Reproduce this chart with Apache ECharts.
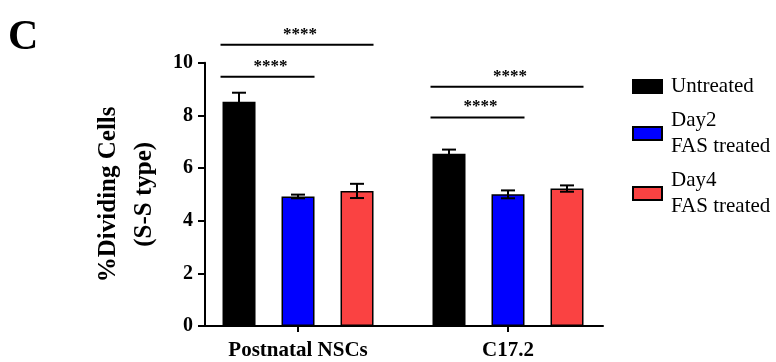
<!DOCTYPE html>
<html>
<head>
<meta charset="utf-8">
<script src="https://cdn.jsdelivr.net/npm/echarts@6/dist/echarts.min.js"></script>
<style>html,body{margin:0;padding:0;background:#fff}#c{width:776px;height:362px}</style>
</head>
<body>
<div id="c"></div>
<script>
// ---- data ----
const categories = ['Postnatal NSCs', 'C17.2'];
const seriesNames = ['Untreated', 'Day2 FAS treated', 'Day4 FAS treated'];
const legendLabels = ['Untreated', 'Day2\nFAS treated', 'Day4\nFAS treated'];
const untreated = [8.52, 6.54];
const day2 = [4.92, 5.00];
const day4 = [5.13, 5.22];
const untreatedErr = [0.34, 0.16];
const day2Err = [0.07, 0.15];
const day4Err = [0.27, 0.12];
const yTicks = [0, 2, 4, 6, 8, 10];
// significance brackets: group, first bar, last bar, height, label
const sigGroup = [0, 0, 1, 1];
const sigFrom = [0, 0, 0, 0];
const sigTo = [2, 1, 2, 1];
const sigHeight = [10.68, 9.47, 9.09, 7.92];
const sigLabel = ['****', '****', '****', '****'];

// ---- style ----
const FONT = '"Liberation Serif", "Times New Roman", serif';
const colors = ['#000000', '#0000FF', '#FA4242'];
const BAR_W = 33, BAR_GAP = 26, STEP = BAR_W + BAR_GAP;

const values = [untreated, day2, day4];
const errs = [untreatedErr, day2Err, day4Err];

const chart = echarts.init(document.getElementById('c'), null, {renderer: 'canvas'});

const barSeries = seriesNames.map((n, k) => ({
  type: 'bar', name: n,
  data: categories.map((c, i) => [i, values[k][i]]),
  barWidth: BAR_W, barGap: (BAR_GAP / BAR_W * 100) + '%',
  itemStyle: {color: colors[k], borderColor: '#000', borderWidth: 1.5},
  z: 2
}));

const errSeries = seriesNames.map((n, k) => ({
  type: 'custom', name: n + ' err',
  data: categories.map((c, i) => [i, values[k][i], errs[k][i]]),
  encode: {x: 0, y: 1},
  z: 5,
  renderItem: function (params, api) {
    const x = api.value(0), v = api.value(1), e = api.value(2);
    const t = api.coord([x, v + e]);
    const b = api.coord([x, v - e]);
    const cx = t[0] + (k - 1) * STEP;
    const st = {stroke: '#000', lineWidth: 2};
    return {type: 'group', children: [
      {type: 'line', shape: {x1: cx, y1: t[1], x2: cx, y2: b[1]}, style: st},
      {type: 'line', shape: {x1: cx - 7, y1: t[1], x2: cx + 7, y2: t[1]}, style: st},
      {type: 'line', shape: {x1: cx - 7, y1: b[1], x2: cx + 7, y2: b[1]}, style: st}
    ]};
  }
}));

const sigSeries = {
  type: 'custom', name: 'sig',
  data: sigGroup.map((g, i) => [g, sigHeight[i], sigFrom[i], sigTo[i], i]),
  encode: {x: 0, y: 1},
  z: 5,
  renderItem: function (params, api) {
    const g = api.value(0), h = api.value(1), f = api.value(2), to = api.value(3), idx = api.value(4);
    const p = api.coord([g, h]);
    const x1 = p[0] + (f - 1) * STEP - BAR_W / 2 - 2;
    const x2 = p[0] + (to - 1) * STEP + BAR_W / 2;
    return {type: 'group', children: [
      {type: 'line', shape: {x1: x1, y1: p[1], x2: x2, y2: p[1]}, style: {stroke: '#000', lineWidth: 2}},
      {type: 'text', x: (x1 + x2) / 2 + 3, y: p[1] - 2,
        style: {text: sigLabel[idx], fill: '#000', font: 'bold 17px ' + FONT, align: 'center', verticalAlign: 'bottom'}}
    ]};
  }
};

chart.setOption({
  animation: false,
  title: {text: 'C', left: 3, top: 12, textStyle: {fontFamily: FONT, fontSize: 42, fontWeight: 'bold', color: '#000'}},
  grid: {left: 205, right: 173, top: 62.7, bottom: 36},
  legend: {
    orient: 'vertical', left: 627, top: 68.5, itemGap: 8,
    itemWidth: 29, itemHeight: 13, icon: 'rect',
    data: seriesNames,
    formatter: n => legendLabels[seriesNames.indexOf(n)],
    textStyle: {fontFamily: FONT, fontSize: 21, lineHeight: 26, color: '#000', padding: [0, 0, 0, 4]}
  },
  xAxis: {
    type: 'value', min: -0.443, max: 1.4524,
    splitLine: {show: false},
    axisLine: {show: true, onZero: false, lineStyle: {color: '#000', width: 2}},
    axisTick: {show: true, length: 6, lineStyle: {color: '#000', width: 2}, customValues: [0, 1]},
    axisLabel: {customValues: [0, 1], formatter: v => categories[Math.round(v)], margin: 14,
      fontFamily: FONT, fontSize: 21, fontWeight: 'bold', color: '#000'}
  },
  yAxis: {
    type: 'value', min: 0, max: 10, interval: 2,
    name: '%Dividing Cells\n(S-S type)', nameLocation: 'middle', nameGap: 42,
    nameTextStyle: {fontFamily: FONT, fontSize: 25, fontWeight: 'bold', lineHeight: 36, color: '#000'},
    splitLine: {show: false},
    axisLine: {show: true, onZero: false, lineStyle: {color: '#000', width: 2}},
    axisTick: {show: true, length: 7, lineStyle: {color: '#000', width: 2}},
    axisLabel: {margin: 12, fontFamily: FONT, fontSize: 20, fontWeight: 'bold', color: '#000',
      formatter: v => (yTicks.indexOf(v) >= 0 ? String(v) : '')}
  },
  series: [...barSeries, ...errSeries, sigSeries]
});
</script>
</body>
</html>
